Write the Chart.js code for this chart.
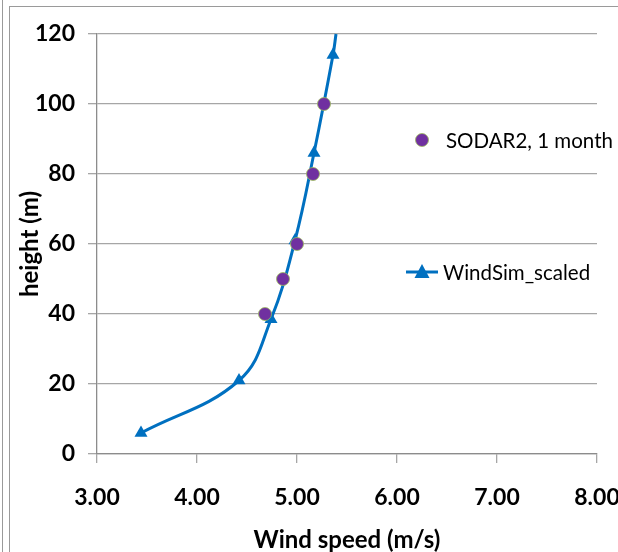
<!DOCTYPE html>
<html>
<head>
<meta charset="utf-8">
<script src="https://cdn.jsdelivr.net/npm/chart.js@4.4.1/dist/chart.umd.min.js"></script>
<style>
  html, body { margin: 0; padding: 0; background: #fff; }
  #wrap { position: relative; width: 618px; height: 552px; overflow: hidden; }
  #edge { position: absolute; left: 2px; top: 0; width: 1px; height: 552px; background: #9a9a9a; }
  #frame { position: absolute; left: 9px; top: 6px; width: 620px; height: 560px; border: 1px solid #9a9a9a; }
  #grafica { position: absolute; left: 0; top: 0; }
</style>
</head>
<body>
<div id="wrap">
  <div id="edge"></div>
  <div id="frame"></div>
  <canvas id="grafica" width="618" height="552"></canvas>
</div>
<script>
// datos
const sodarSpeed = [4.68, 4.86, 5.00, 5.16, 5.27];
const sodarHeight = [40, 50, 60, 80, 100];
const windsimSpeed = [3.44, 4.42, 4.74, 4.98, 5.17, 5.36, 5.39];
const windsimHeight = [6, 21, 38.5, 61, 86, 114, 120];
const xTicks = [3, 4, 5, 6, 7, 8];
const yTicks = [0, 20, 40, 60, 80, 100, 120];

const azul = '#0070c0';
const morado = '#7030a0';
const fuente = 'Lato';

const toPoints = (xs, ys) => xs.map((x, i) => ({ x, y: ys[i] }));

// leyenda dibujada dentro del area, como en Excel
const leyenda = {
  id: 'leyenda',
  afterDraw(chart) {
    const ctx = chart.ctx;
    ctx.save();
    ctx.font = '20.5px ' + fuente;
    ctx.fillStyle = '#000';
    ctx.textBaseline = 'middle';

    ctx.beginPath();
    ctx.arc(422, 140, 6.5, 0, Math.PI * 2);
    ctx.fillStyle = morado;
    ctx.fill();
    ctx.strokeStyle = '#9bbb59';
    ctx.lineWidth = 0.8;
    ctx.stroke();
    ctx.fillStyle = '#000';
    ctx.fillText('SODAR2, 1 month', 446, 141);

    ctx.strokeStyle = azul;
    ctx.lineWidth = 3;
    ctx.beginPath();
    ctx.moveTo(406, 272);
    ctx.lineTo(438, 272);
    ctx.stroke();
    ctx.fillStyle = azul;
    ctx.beginPath();
    ctx.moveTo(422, 264);
    ctx.lineTo(429.5, 278);
    ctx.lineTo(414.5, 278);
    ctx.closePath();
    ctx.fill();
    ctx.fillStyle = '#000';
    ctx.fillText('WindSim_scaled', 443, 273);
    ctx.restore();
  }
};

const ctx = document.getElementById('grafica').getContext('2d');
const chart = new Chart(ctx, {
  type: 'scatter',
  data: {
    datasets: [
      {
        label: 'SODAR2, 1 month',
        data: toPoints(sodarSpeed, sodarHeight),
        pointStyle: 'circle',
        pointRadius: 6.5,
        pointBackgroundColor: morado,
        pointBorderColor: '#9bbb59',
        pointBorderWidth: 0.8,
        showLine: false
      },
      {
        label: 'WindSim_scaled',
        data: toPoints(windsimSpeed, windsimHeight),
        showLine: true,
        borderColor: azul,
        borderWidth: 3,
        tension: 0.4,
        pointStyle: 'triangle',
        pointRadius: windsimHeight.map((h, i) => (i === windsimHeight.length - 1 ? 0 : 7.5)),
        pointBackgroundColor: azul,
        pointBorderColor: azul,
        pointBorderWidth: 0,
        clip: false
      }
    ]
  },
  options: {
    responsive: false,
    animation: false,
    layout: { padding: { left: 0, top: 34, right: 21, bottom: 0 } },
    plugins: {
      legend: { display: false },
      tooltip: { enabled: false }
    },
    scales: {
      x: {
        type: 'linear',
        min: 3,
        max: 8,
        afterBuildTicks: (s) => { s.ticks = xTicks.map((v) => ({ value: v })); },
        afterFit: (s) => { s.height = 98; s.paddingRight = 0; s.paddingLeft = 0; },
        ticks: {
          color: '#000',
          padding: 21,
          maxRotation: 0,
          font: { family: fuente, size: 23, weight: 'bold' },
          callback: (v) => v.toFixed(2)
        },
        grid: { drawOnChartArea: false, drawTicks: true, tickLength: 9, color: '#a6a6a6', lineWidth: 1.3 },
        border: { display: true, color: '#8c8c8c', width: 1.3 },
        title: {
          display: true,
          text: 'Wind speed (m/s)',
          color: '#000',
          padding: { top: 0, bottom: 0 },
          font: { family: fuente, size: 24, weight: 'bold', lineHeight: 1 }
        }
      },
      y: {
        type: 'linear',
        min: 0,
        max: 120,
        afterBuildTicks: (s) => { s.ticks = yTicks.map((v) => ({ value: v })); },
        afterFit: (s) => { s.width = 97; },
        ticks: {
          color: '#000',
          padding: 13,
          font: { family: fuente, size: 23, weight: 'bold' }
        },
        grid: { drawOnChartArea: true, drawTicks: true, tickLength: 9, color: '#a6a6a6', lineWidth: 1.3 },
        border: { display: true, color: '#8c8c8c', width: 1.3 },
        title: {
          display: true,
          text: 'height (m)',
          color: '#000',
          padding: { top: 18, bottom: 0 },
          font: { family: fuente, size: 24, weight: 'bold', lineHeight: 1 }
        }
      }
    }
  },
  plugins: [leyenda]
});
</script>
</body>
</html>
